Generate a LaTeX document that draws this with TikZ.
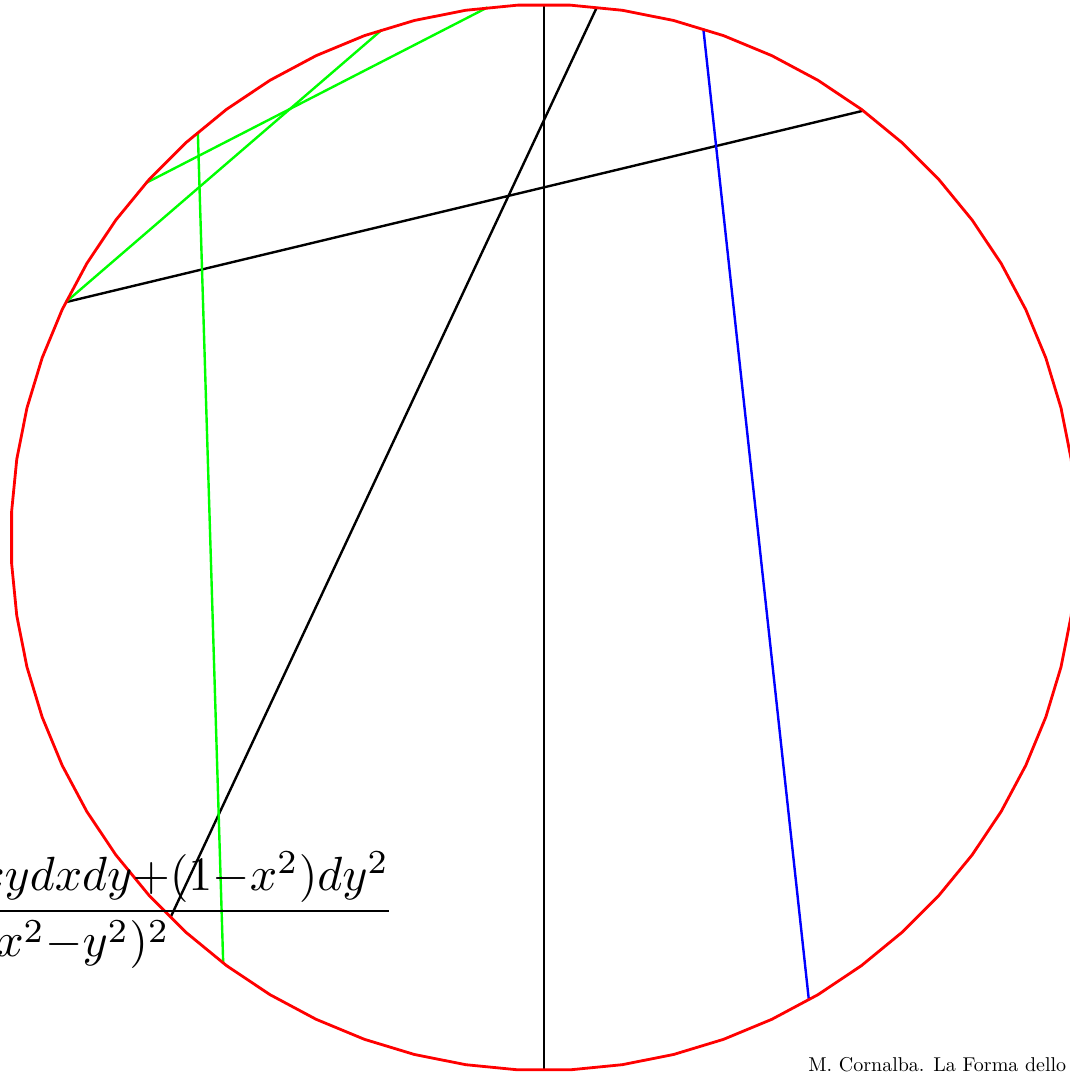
\documentclass[tikz,border=0pt]{standalone}
\usepackage{amsmath}

\begin{document}
\begin{tikzpicture}[
    x=9.37cm, y=9.37cm,
    rim/.style     = {red, line width=1.4pt, line join=round},
    chord/.style   = {line width=1.2pt},
    caption/.style = {inner sep=0pt, font=\normalsize}
]
\useasboundingbox (-1.0206,-1.0047) rectangle (0.985,1.0084);

% Ideal points on the boundary of the disc
\foreach \n/\ang in {N/90, S/270, A/84.3, B/225.5, C/153.8, D/53.2,
                     E/72.6, F/299.8, G/130.5, H/233.0, K/107.7,
                     L/138.3, M/96.1}
    \coordinate (\n) at (\ang:1);

% Black chords
\draw[chord] (N) -- (S);
\draw[chord] (A) -- (B);
\draw[chord] (C) -- (D);

% Blue chord
\draw[chord, blue] (E) -- (F);

% Green chords
\draw[chord, green] (G) -- (H);
\draw[chord, green] (C) -- (K);
\draw[chord, green] (L) -- (M);

% Boundary drawn as a 64-gon
\draw[rim] plot[domain=2.8125:362.8125, samples=65] ({cos(\x)}, {sin(\x)}) -- cycle;

% Metric of the Klein model
\node[scale=2.40, inner sep=0pt, anchor=base] (metric) at (-0.940,-0.7235)
    {$\dfrac{(1{-}y^2)dx^2{+}2xydxdy{+}(1{-}x^2)dy^2}{(1{-}x^2{-}y^2)^2}$};

\node[caption, anchor=base west] (cite) at (0.4953,-1.001) {M. Cornalba. La Forma dello};

\end{tikzpicture}
\end{document}
